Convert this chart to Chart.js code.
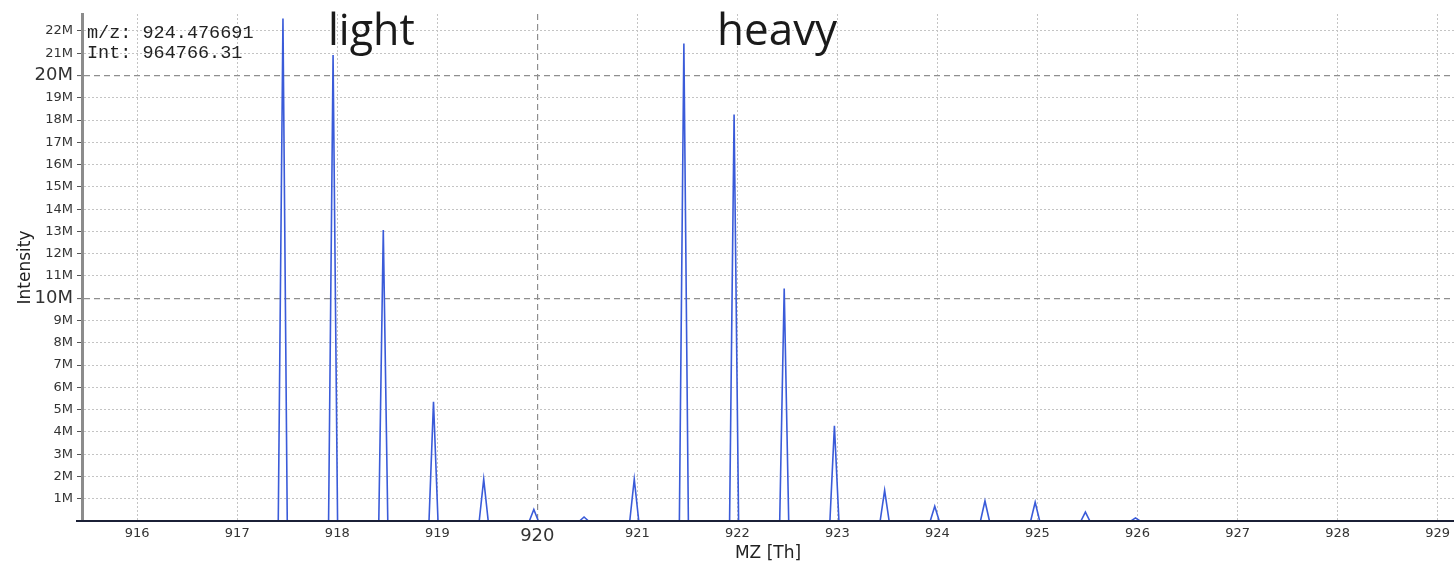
<!DOCTYPE html>
<html>
<head>
<meta charset="utf-8">
<title>MZ spectrum</title>
<script src="https://cdn.jsdelivr.net/npm/chart.js@4/dist/chart.umd.min.js"></script>
<style>
  body{margin:0;background:#fff;}
  #grafica{display:block;}
</style>
</head>
<body>
<canvas id="grafica" width="1455" height="564"></canvas>
<script>
// perfil del espectro (m/z en Th, intensidad en millones), pico por pico
var mzPerfil = [915.45,
    917.41, 917.457, 917.50,
    917.913, 917.958, 918.003,
    918.415, 918.460, 918.505,
    918.917, 918.962, 919.007,
    919.419, 919.464, 919.509,
    919.920, 919.965, 920.010,
    920.422, 920.467, 920.512,
    920.924, 920.969, 921.014,
    921.420, 921.465, 921.510,
    921.922, 921.967, 922.012,
    922.423, 922.468, 922.513,
    922.925, 922.970, 923.015,
    923.427, 923.472, 923.517,
    923.928, 923.973, 924.018,
    924.430, 924.475, 924.520,
    924.932, 924.977, 925.022,
    925.434, 925.479, 925.524,
    925.935, 925.980, 926.025,
    929.17];
var intPerfil = [0,
    0, 22.56, 0,
    0, 20.92, 0,
    0, 13.06, 0,
    0, 5.35, 0,
    0, 1.88, 0,
    0, 0.52, 0,
    0, 0.18, 0,
    0, 1.88, 0,
    0, 21.44, 0,
    0, 18.25, 0,
    0, 10.44, 0,
    0, 4.27, 0,
    0, 1.38, 0,
    0, 0.66, 0,
    0, 0.90, 0,
    0, 0.84, 0,
    0, 0.40, 0,
    0, 0.14, 0,
    0];

var ticksX = [916, 917, 918, 919, 920, 921, 922, 923, 924, 925, 926, 927, 928, 929];
var ticksY = [1, 2, 3, 4, 5, 6, 7, 8, 9, 10, 11, 12, 13, 14, 15, 16, 17, 18, 19, 20, 21, 22];
var ticksMayoresX = [920];
var ticksMayoresY = [10, 20];

var infoCursor = ['m/z: 924.476691', 'Int: 964766.31'];
var etiquetas = ['light', 'heavy'];

var puntos = mzPerfil.map((mz, i) => ({x: mz, y: intPerfil[i]}));

function esMayor(ctx, lista){
    return ctx.tick ? lista.includes(ctx.tick.value) : false;
}

// textos sobre la grafica y la linea del eje inferior
var extras = {
    id: 'extras',
    afterDatasetsDraw(chart){
        const c = chart.ctx;
        const area = chart.chartArea;
        c.save();
        c.strokeStyle = '#1b2036';
        c.lineWidth = 2;
        c.beginPath();
        c.moveTo(76, area.bottom);
        c.lineTo(area.right, area.bottom);
        c.stroke();

        c.fillStyle = '#222';
        c.font = '18.5px "Liberation Mono"';
        c.textBaseline = 'middle';
        c.fillText(infoCursor[0], 87, 33);
        c.fillText(infoCursor[1], 87, 53);

        c.fillStyle = '#1a1a1a';
        c.textBaseline = 'alphabetic';
        c.font = '43px "Open Sans"';
        c.fillText(etiquetas[0], 328, 45);
        c.font = '44px "Open Sans"';
        c.fillText(etiquetas[1], 717, 45);
        c.restore();
    }
};

var ctx = document.getElementById('grafica').getContext('2d');
var chart = new Chart(ctx, {
    type: 'line',
    data: {
        datasets: [{
            data: puntos,
            borderColor: '#3a5bd9',
            borderWidth: 1.6,
            pointRadius: 0,
            tension: 0,
            fill: false
        }]
    },
    options: {
        responsive: false,
        animation: false,
        devicePixelRatio: 1,
        layout: {padding: {top: 14, right: 0, left: 0, bottom: 0}},
        plugins: {legend: {display: false}, tooltip: {enabled: false}},
        scales: {
            x: {
                type: 'linear',
                min: 915.448,
                max: 929.164,
                afterBuildTicks: (s) => { s.ticks = ticksX.map(v => ({value: v})); },
                afterFit: (s) => { s.height = 43; },
                ticks: {
                    autoSkip: false,
                    maxRotation: 0,
                    padding: 5,
                    color: '#333',
                    font: (c) => ({family: 'DejaVu Sans', size: esMayor(c, ticksMayoresX) ? 18 : 13}),
                    callback: (v) => `${v}`
                },
                grid: {
                    drawTicks: false,
                    color: (c) => esMayor(c, ticksMayoresX) ? '#8f8f8f' : '#c4c4c4',
                    lineWidth: (c) => esMayor(c, ticksMayoresX) ? 1.2 : 1
                },
                border: {
                    display: false,
                    dash: (c) => c.tick ? (esMayor(c, ticksMayoresX) ? [6, 4] : [2, 2]) : []
                },
                title: {
                    display: true,
                    text: 'MZ [Th]',
                    color: '#222',
                    font: {family: 'DejaVu Sans', size: 17},
                    padding: {top: 0, bottom: 0}
                }
            },
            y: {
                min: 0,
                max: 22.76,
                afterBuildTicks: (s) => { s.ticks = ticksY.map(v => ({value: v})); },
                afterFit: (s) => { s.width = 82; },
                ticks: {
                    autoSkip: false,
                    padding: 4,
                    color: '#333',
                    font: (c) => ({family: 'DejaVu Sans', size: esMayor(c, ticksMayoresY) ? 18 : 13}),
                    callback: (v) => `${v}M`
                },
                grid: {
                    tickLength: 5,
                    tickColor: '#555',
                    tickWidth: 1,
                    tickBorderDash: [],
                    color: (c) => esMayor(c, ticksMayoresY) ? '#8f8f8f' : '#c4c4c4',
                    lineWidth: (c) => esMayor(c, ticksMayoresY) ? 1.2 : 1
                },
                border: {
                    display: true,
                    color: '#8c8c8c',
                    width: 3,
                    dash: (c) => c.tick ? (esMayor(c, ticksMayoresY) ? [6, 4] : [2, 2]) : []
                },
                title: {
                    display: true,
                    text: 'Intensity',
                    color: '#222',
                    font: {family: 'DejaVu Sans', size: 17},
                    padding: {top: 15, bottom: 0}
                }
            }
        }
    },
    plugins: [extras]
});
</script>
</body>
</html>
